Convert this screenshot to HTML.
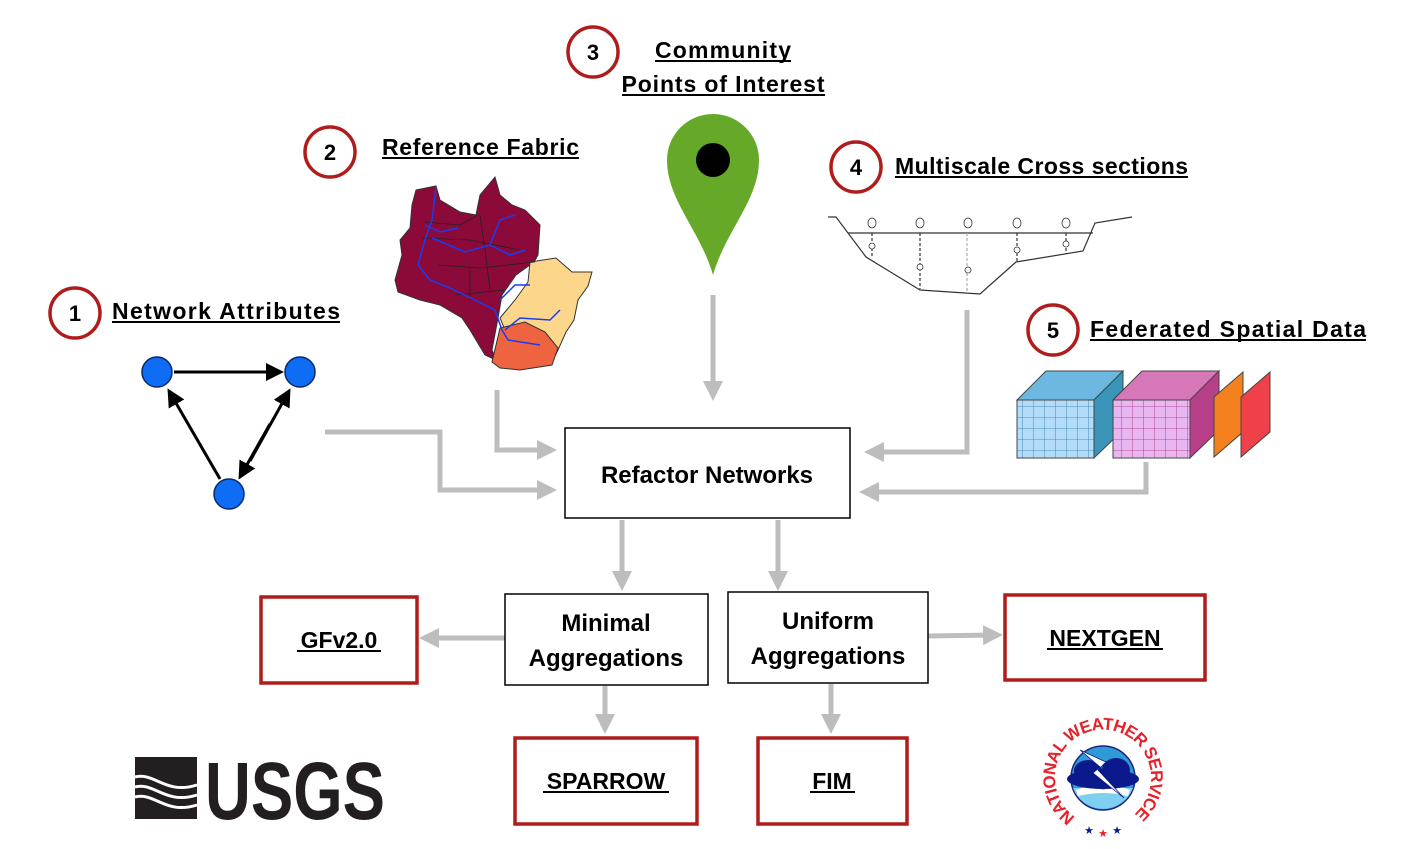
<!DOCTYPE html>
<html><head><meta charset="utf-8"><style>
html,body{margin:0;padding:0;background:#fff;}
svg{display:block;}
text{font-family:"Liberation Sans",sans-serif;}
</style></head><body>
<svg width="1422" height="849" viewBox="0 0 1422 849" xmlns="http://www.w3.org/2000/svg">
<defs>
<marker id="ga" markerWidth="4" markerHeight="4" refX="2.2" refY="2" orient="auto" markerUnits="strokeWidth"><path d="M0,0 L4,2 L0,4 z" fill="#bdbdbd"/></marker>
<marker id="ba" markerWidth="6" markerHeight="6" refX="5" refY="3" orient="auto" markerUnits="strokeWidth"><path d="M0,0 L6,3 L0,6 z" fill="#000"/></marker>
<pattern id="gridB" width="11" height="11" patternUnits="userSpaceOnUse"><rect width="11" height="11" fill="#b3dcfa"/><path d="M11,0V11M0,11H11" stroke="#2d7a9a" stroke-width="0.8"/></pattern>
<pattern id="gridP" width="11" height="11" patternUnits="userSpaceOnUse"><rect width="11" height="11" fill="#e8b6f0"/><path d="M11,0V11M0,11H11" stroke="#a03070" stroke-width="0.8"/></pattern>
<path id="nwsarc" d="M1075.5,817 A48,48 0 1 1 1130.5,817" fill="none"/>
</defs>

<!-- numbered circles -->
<g fill="#fff" stroke="#b01c1c" stroke-width="3.5">
<circle cx="75" cy="313" r="25"/><circle cx="330" cy="152" r="25"/><circle cx="593" cy="52" r="25"/><circle cx="856" cy="167" r="25"/><circle cx="1053" cy="330" r="25"/>
</g>
<g font-weight="bold" font-size="22" text-anchor="middle" fill="#000">
<text x="75" y="321">1</text><text x="330" y="160">2</text><text x="593" y="60">3</text><text x="856" y="175">4</text><text x="1053" y="338">5</text>
</g>
<g font-weight="bold" font-size="23" fill="#000">
<text x="112" y="319" textLength="228">Network Attributes</text>
<text x="382" y="155" textLength="197">Reference Fabric</text>
<text x="723" y="58" text-anchor="middle" textLength="136">Community</text>
<text x="723" y="92" text-anchor="middle" textLength="203">Points of Interest</text>
<text x="895" y="174" textLength="293">Multiscale Cross sections</text>
<text x="1090" y="337" textLength="276">Federated Spatial  Data</text>
</g>
<g stroke="#000" stroke-width="2">
<line x1="112" y1="322" x2="340" y2="322"/><line x1="382" y1="158" x2="579" y2="158"/>
<line x1="655" y1="61" x2="791" y2="61"/><line x1="622" y1="95" x2="825" y2="95"/>
<line x1="895" y1="177" x2="1188" y2="177"/><line x1="1090" y1="340" x2="1366" y2="340"/>
</g>

<!-- network graph -->
<g stroke="#000" stroke-width="3" fill="none">
<line x1="174" y1="372" x2="281" y2="372" marker-end="url(#ba)"/>
<line x1="220" y1="479" x2="169" y2="391" marker-end="url(#ba)"/>
<line x1="250" y1="461" x2="289" y2="391" marker-end="url(#ba)"/>
<line x1="270" y1="424" x2="240" y2="477" marker-end="url(#ba)"/>
</g>
<g fill="#0f6cf5" stroke="#0a2a6a" stroke-width="1.5">
<circle cx="157" cy="372" r="15"/><circle cx="300" cy="372" r="15"/><circle cx="229" cy="494" r="15"/>
</g>

<!-- reference fabric -->
<g stroke="#333" stroke-width="1">
<path d="M416,190 L436,186 L440,200 L460,212 L476,215 L480,195 L495,177 L500,195 L512,205 L525,210 L540,225 L538,255 L534,262 L516,275 L502,295 L498,318 L492,350 L496,360 L485,355 L470,330 L462,318 L440,305 L420,300 L398,292 L395,280 L402,255 L400,240 L410,228 L412,205 Z" fill="#8b0a3a"/>
<path d="M530,262 L556,258 L572,272 L592,272 L588,286 L578,300 L574,320 L566,332 L558,350 L552,362 L545,355 L530,332 L505,330 L500,318 L515,300 L528,282 Z" fill="#fcd78b"/>
<path d="M500,328 L525,322 L545,332 L558,348 L552,365 L520,370 L500,368 L492,362 Z" fill="#ee6440"/>
</g>
<g stroke="#222" stroke-width="0.8" fill="none">
<path d="M425,222 L460,225 L478,215 M422,238 L470,240 L520,250 M438,265 L480,268 L535,262 M480,215 L485,250 L490,290 M470,270 L470,300 M455,295 L505,290"/>
</g>
<g stroke="#1a3cf0" stroke-width="1.5" fill="none">
<path d="M436,188 L432,220 L425,240 L418,265 L430,280 L450,288 L475,300 L495,310 L502,330 L508,340 L540,345"/>
<path d="M425,225 L440,232 L458,228 M432,238 L465,252 L490,245 L510,255 L525,250 M490,245 L500,220 L515,215 M500,300 L515,285 L530,285 M505,330 L520,318 L550,320 L560,310"/>
</g>

<!-- pin -->
<path d="M713,275 C700,230 667,200 667,160 A46,46 0 0 1 759,160 C759,200 726,230 713,275 Z" fill="#66a828"/>
<circle cx="713" cy="160" r="17" fill="#000"/>

<!-- cross section -->
<g stroke="#333" stroke-width="1.2" fill="none">
<path d="M828,217 L836,217 L866,257 L920,290 L980,294 L1016,262 L1083,251 L1095,223 L1132,217"/>
<line x1="848" y1="233" x2="1093" y2="233"/>
<g stroke-dasharray="3,2"><line x1="872" y1="233" x2="872" y2="258"/><line x1="920" y1="233" x2="920" y2="289"/><line x1="967" y1="233" x2="967" y2="293" stroke="#aaa"/><line x1="1017" y1="233" x2="1017" y2="262"/><line x1="1066" y1="233" x2="1066" y2="254"/></g>
</g>
<g fill="#fff" stroke="#333" stroke-width="0.8">
<ellipse cx="872" cy="223" rx="4" ry="5"/><ellipse cx="920" cy="223" rx="4" ry="5"/><ellipse cx="968" cy="223" rx="4" ry="5"/><ellipse cx="1017" cy="223" rx="4" ry="5"/><ellipse cx="1066" cy="223" rx="4" ry="5"/>
<circle cx="872" cy="246" r="3"/><circle cx="920" cy="267" r="3"/><circle cx="968" cy="270" r="3"/><circle cx="1017" cy="250" r="3"/><circle cx="1066" cy="244" r="3"/>
</g>

<!-- cubes -->
<g stroke="#444" stroke-width="1">
<path d="M1017,400 L1046,371 L1123,371 L1094,400 Z" fill="#6cb8e0"/>
<path d="M1094,400 L1123,371 L1123,430 L1094,458 Z" fill="#3a95b8"/>
<rect x="1017" y="400" width="77" height="58" fill="url(#gridB)"/>
<path d="M1113,400 L1142,371 L1219,371 L1190,400 Z" fill="#d678b8"/>
<path d="M1190,400 L1219,371 L1219,430 L1190,458 Z" fill="#b84088"/>
<rect x="1113" y="400" width="77" height="58" fill="url(#gridP)"/>
<path d="M1214,397 L1243,372 L1243,432 L1214,457 Z" fill="#f5801e"/>
<path d="M1241,397 L1270,372 L1270,432 L1241,457 Z" fill="#f0404a"/>
</g>

<!-- Refactor box -->
<rect x="565" y="428" width="285" height="90" fill="#fff" stroke="#000" stroke-width="1.5"/>
<text x="707" y="483" font-size="24" font-weight="bold" text-anchor="middle">Refactor Networks</text>

<!-- gray connectors -->
<g stroke="#bdbdbd" stroke-width="5" fill="none">
<line x1="713" y1="295" x2="713" y2="392" marker-end="url(#ga)"/>
<polyline points="497,390 497,450 548,450" marker-end="url(#ga)"/>
<polyline points="325,432 440,432 440,490 548,490" marker-end="url(#ga)"/>
<polyline points="967,310 967,452 873,452" marker-end="url(#ga)"/>
<polyline points="1146,462 1146,492 868,492" marker-end="url(#ga)"/>
<line x1="622" y1="520" x2="622" y2="582" marker-end="url(#ga)"/>
<line x1="778" y1="520" x2="778" y2="582" marker-end="url(#ga)"/>
<line x1="505" y1="638" x2="428" y2="638" marker-end="url(#ga)"/>
<line x1="928" y1="636" x2="994" y2="635" marker-end="url(#ga)"/>
<line x1="605" y1="686" x2="605" y2="725" marker-end="url(#ga)"/>
<line x1="831" y1="684" x2="831" y2="725" marker-end="url(#ga)"/>
</g>

<!-- aggregation boxes -->
<rect x="505" y="594" width="203" height="91" fill="#fff" stroke="#000" stroke-width="1.5"/>
<rect x="728" y="592" width="200" height="91" fill="#fff" stroke="#000" stroke-width="1.5"/>
<g font-size="24" font-weight="bold" text-anchor="middle">
<text x="606" y="631">Minimal</text><text x="606" y="666">Aggregations</text>
<text x="828" y="629">Uniform</text><text x="828" y="664">Aggregations</text>
</g>

<!-- red boxes -->
<g fill="#fff" stroke="#b01c1c" stroke-width="3.5">
<rect x="261" y="597" width="156" height="86"/><rect x="1005" y="595" width="200" height="85"/>
<rect x="515" y="738" width="182" height="86"/><rect x="758" y="738" width="149" height="86"/>
</g>
<g font-size="23" font-weight="bold" text-anchor="middle">
<text x="339" y="648">GFv2.0</text><text x="1105" y="646">NEXTGEN</text>
<text x="606" y="789">SPARROW</text><text x="832" y="789">FIM</text>
</g>
<g stroke="#000" stroke-width="2">
<line x1="297" y1="651" x2="381" y2="651"/><line x1="1047" y1="649" x2="1163" y2="649"/>
<line x1="543" y1="792" x2="669" y2="792"/><line x1="810" y1="792" x2="855" y2="792"/>
</g>

<!-- USGS logo -->
<rect x="135" y="757" width="62" height="62" fill="#231f20"/>
<g stroke="#fff" stroke-width="3" fill="none">
<path d="M135,777 C155,772 165,795 197,785"/><path d="M135,787 C155,782 165,805 197,795"/><path d="M135,797 C155,792 165,815 197,805"/>
</g>
<text x="205" y="819" font-size="82" font-weight="bold" fill="#231f20" textLength="180" lengthAdjust="spacingAndGlyphs">USGS</text>

<!-- NWS logo -->
<circle cx="1103" cy="778" r="32" fill="#2e9ad6" stroke="#1a237e" stroke-width="1.5"/>
<path d="M1073,788 A32,32 0 0 0 1133,788 Z" fill="#7fd0f0"/>
<path d="M1076,790 Q1090,784 1103,790 Q1116,784 1130,790 L1128,796 Q1103,790 1078,796 Z" fill="#fff"/>
<ellipse cx="1103" cy="779" rx="36" ry="10" fill="#0a1a8c"/>
<ellipse cx="1088" cy="771" rx="14" ry="11" fill="#0a1a8c"/>
<ellipse cx="1116" cy="770" rx="14" ry="12" fill="#0a1a8c"/>
<path d="M1080,750 L1106,762 L1098,770 L1124,798 L1093,773 L1100,767 Z" fill="#fff" stroke="#0a1a8c" stroke-width="0.8"/>
<text font-size="17" font-weight="bold" fill="#e8202a"><textPath href="#nwsarc" textLength="238" lengthAdjust="spacing">NATIONAL WEATHER SERVICE</textPath></text>
<g font-size="11" text-anchor="middle"><text x="1089" y="834" fill="#0a1a8c">★</text><text x="1103" y="837" fill="#e8202a">★</text><text x="1117" y="834" fill="#0a1a8c">★</text></g>
</svg>
</body></html>
